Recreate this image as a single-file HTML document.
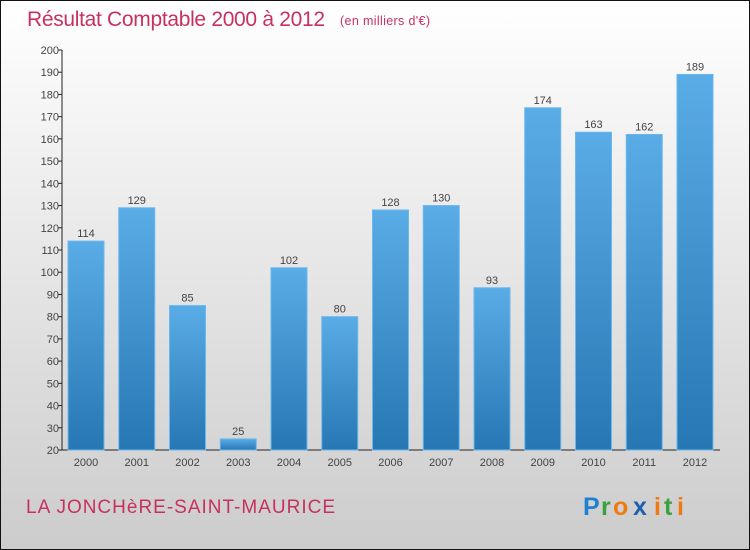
<!DOCTYPE html>
<html><head><meta charset="utf-8"><style>
body{margin:0}
#c{width:750px;height:550px;position:relative;overflow:hidden}
text{font-family:"Liberation Sans",sans-serif}
</style></head><body>
<div id="c">
<svg id="s" width="750" height="550" xmlns="http://www.w3.org/2000/svg">
<defs>
<linearGradient id="bg" x1="0" y1="0" x2="0" y2="1"><stop offset="0" stop-color="#ffffff"/><stop offset="1" stop-color="#cccccc"/></linearGradient>
<linearGradient id="bar" x1="0" y1="0" x2="0" y2="1"><stop offset="0" stop-color="#5aace6"/><stop offset="1" stop-color="#2677b3"/></linearGradient>
</defs>
<rect x="0.5" y="0.5" width="749" height="549" fill="url(#bg)" stroke="#111"/>
<text x="27" y="26" font-size="21" fill="#c8315f" textLength="298">Résultat Comptable 2000 à 2012</text>
<text x="340" y="25" font-size="12.5" fill="#c8315f" textLength="90">(en milliers d'€)</text>
<g id="axes"></g><g id="bars"></g>
<text x="26" y="513" font-size="19" fill="#c8315f" textLength="309">LA JONCHèRE-SAINT-MAURICE</text>
<g font-size="25" font-weight="bold">
<text x="583" y="515" fill="#1f7fd0">P</text><text x="601" y="515" fill="#3aa23a">r</text><text x="613" y="515" fill="#f07a12">o</text><text x="633" y="515" fill="#1f5fb0">x</text><text x="654" y="515" fill="#f07a12">i</text><text x="664" y="515" fill="#3aa23a">t</text><text x="677" y="515" fill="#f07a12">i</text>
</g>
</svg></div>
<script>
const categories=["2000","2001","2002","2003","2004","2005","2006","2007","2008","2009","2010","2011","2012"];
const values=[114,129,85,25,102,80,128,130,93,174,163,162,189];
const yTicks=[20,30,40,50,60,70,80,90,100,110,120,130,140,150,160,170,180,190,200];
const NS="http://www.w3.org/2000/svg";
const x0=62,yTop=50,yBot=450,yMin=20,yMax=200,step=50.75,bw=36;
const y=v=>yBot-(v-yMin)/(yMax-yMin)*(yBot-yTop);
const xc=i=>86+i*step;
function mk(t,a,p){const e=document.createElementNS(NS,t);for(const k in a)e.setAttribute(k,a[k]);p.appendChild(e);return e;}
const ax=document.getElementById('axes'),bs=document.getElementById('bars');
const yl=mk('line',{x1:x0,y1:yTop,x2:x0,y2:yBot,stroke:'#222'},ax);


const xl=mk('line',{x1:x0,y1:yBot,x2:720,y2:yBot,stroke:'#222'},ax);


yTicks.forEach(v=>{
 mk('line',{x1:x0-4,y1:y(v),x2:x0,y2:y(v),stroke:'#222'},ax);
 const t=mk('text',{x:x0-3,y:y(v)+4,'font-size':11,fill:'#444','text-anchor':'end'},ax);t.textContent=v;
 
 
});
categories.forEach((c,i)=>{
 const v=values[i];
 const r=mk('rect',{x:xc(i)-bw/2,y:y(v),width:bw,height:yBot-y(v),fill:'url(#bar)',stroke:'#6bb8ee','stroke-width':1},bs);
 
 
 const l=mk('text',{x:xc(i),y:y(v)-4,'font-size':11,fill:'#444','text-anchor':'middle'},bs);l.textContent=v;
 
 
 const t=mk('text',{x:xc(i),y:466,'font-size':11,fill:'#444','text-anchor':'middle'},ax);t.textContent=c;
 
 
});
</script>
</body></html>
